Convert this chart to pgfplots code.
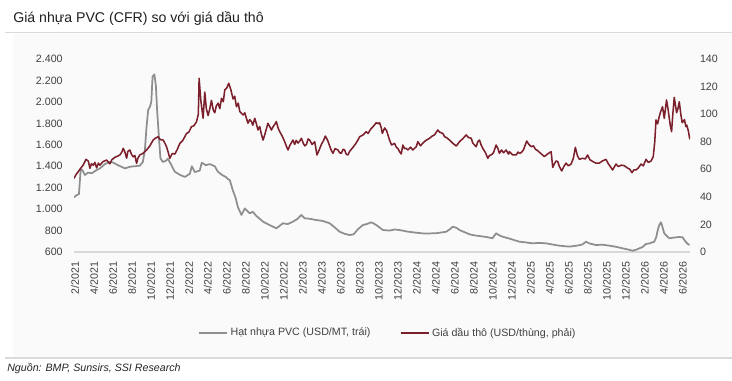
\documentclass[border=0pt]{standalone}
\usepackage{pgfplots}
\pgfplotsset{compat=1.18}
\usepackage{pgfplotstable}
\usepackage{fontspec}
\setmainfont{Liberation Sans}

\definecolor{pvcgray}{HTML}{8E8E8E}
\definecolor{oilred}{HTML}{7A1F2B}
\definecolor{ticktext}{HTML}{404040}
\definecolor{panel}{HTML}{FAFAFA}
\definecolor{rule}{HTML}{DADADA}

% x = months since February 2021
\pgfplotstableread{
m v
-0.1 1110
0.18 1130
0.42 1140
0.6 1365
0.74 1370
1.05 1318
1.37 1340
1.79 1335
2.2 1360
2.63 1380
3.15 1420
3.68 1440
4.0 1435
4.52 1410
5.26 1380
5.78 1395
6.3 1400
6.83 1405
7.15 1440
7.36 1550
7.54 1770
7.71 1924
7.89 1955
8.04 2000
8.17 2235
8.36 2257
8.52 2150
8.65 1924
8.86 1645
9.0 1474
9.25 1440
9.57 1450
9.78 1470
10.1 1420
10.5 1350
11.04 1320
11.57 1300
12.1 1330
12.3 1400
12.62 1345
13.14 1360
13.35 1433
13.77 1410
14.2 1420
14.72 1400
15.04 1350
15.46 1320
15.88 1300
16.1 1280
16.3 1271
16.61 1178
16.93 1100
17.14 1022
17.53 945
17.88 1007
18.4 961
18.72 975
19.1 936
19.45 910
19.8 883
20.29 860
20.85 836
21.2 821
21.56 845
21.9 868
22.4 860
22.95 883
23.45 910
23.84 945
24.19 914
24.71 910
25.42 898
26.08 890
26.81 868
27.34 830
27.86 789
28.39 770
28.92 758
29.34 765
29.79 812
30.32 852
30.7 860
31.2 877
31.72 852
32.42 805
33.12 800
33.65 810
34.17 805
35.02 790
35.93 780
36.8 772
38.03 775
39.09 789
39.43 810
39.78 836
40.17 825
40.48 805
41.01 785
41.54 765
42.06 755
42.59 749
43.32 740
43.95 728
44.34 774
44.69 755
45.01 743
45.74 725
46.79 696
47.42 690
48.16 681
48.9 685
49.6 681
50.26 670
51.0 659
52.05 650
52.89 660
53.42 670
53.8 696
54.15 680
54.86 665
55.52 668
56.26 659
56.99 648
57.66 634
58.15 625
58.71 612
59.1 622
59.41 634
59.73 645
60.12 675
60.46 680
60.99 696
61.2 740
61.34 800
61.51 850
61.69 877
61.83 840
62.04 774
62.3 750
62.57 728
63.1 735
63.62 740
63.97 737
64.25 700
64.52 675
64.7 665
}\pvcdata

\pgfplotstableread{
m v
-0.1 53.4
0.1 56
0.35 58.3
0.63 61
0.87 63.1
1.16 67.2
1.4 66
1.58 60.7
1.73 64
1.92 63
2.1 65
2.28 61
2.47 64.5
2.63 63
2.94 65.5
3.33 66.7
3.68 64
3.89 67
4.21 68.7
4.47 69.5
4.73 70.4
4.94 72.5
5.08 75.2
5.26 72.5
5.44 68
5.57 73
5.78 74
5.94 71
6.13 69
6.31 70
6.49 64.3
6.62 68
6.83 70.4
7.15 71.5
7.54 74
7.89 77
8.23 81.2
8.46 82.5
8.76 83.6
8.99 81.5
9.29 81.2
9.46 79
9.64 76.4
9.83 72
9.99 68
10.25 71.5
10.52 71
10.78 74.5
11.04 78.8
11.36 81
11.75 86
11.99 87
12.27 90.9
12.51 91.5
12.8 94.5
12.99 100
13.07 126
13.25 110
13.49 97
13.67 116
13.83 104
14.02 99
14.2 104
14.37 110
14.56 103
14.72 101
14.88 106
15.07 108
15.25 104
15.43 111.5
15.62 109
15.77 117.5
15.98 119
16.19 122.4
16.4 118
16.65 111
16.82 113
17.0 105.4
17.19 108
17.35 102
17.53 100.6
17.7 99.4
17.88 101
18.05 97
18.22 93.4
18.4 96
18.58 94.6
18.72 92
18.93 97
19.1 93
19.27 88.5
19.45 91
19.61 86
19.8 81.2
19.98 85
20.14 89
20.32 93.4
20.5 91
20.68 88.5
20.87 91
21.03 92.5
21.2 94.6
21.38 90
21.56 87.3
21.82 84
22.08 80
22.24 77
22.43 74
22.6 77
22.76 79
22.95 81.2
23.13 78
23.29 81
23.48 79
23.66 80.5
23.84 82.5
24.03 79
24.19 77
24.37 78
24.55 82
24.71 81.2
24.97 78
25.24 80
25.48 70.4
25.71 74
25.94 78
26.18 81
26.36 84.1
26.6 81
26.81 77
26.97 74
27.16 71.6
27.39 75
27.69 74
27.86 72
28.04 71.6
28.23 74.5
28.39 74
28.55 71
28.74 70.4
28.92 73
29.26 75.9
29.55 78.5
29.79 81.2
29.97 83.6
30.32 84.9
30.67 87.3
30.86 86
31.12 89
31.39 91
31.72 93.8
31.96 93
32.07 93.8
32.25 90
32.36 86
32.6 90
32.81 88
33.12 81.2
33.33 77.6
33.65 78.8
33.83 76
34.01 75
34.17 72.8
34.35 71.1
34.52 77.6
34.7 75
34.87 75.2
35.05 74
35.33 76
35.57 74
35.93 76.4
36.1 80
36.38 77
36.62 79
36.96 81
37.33 82.5
37.59 84
37.85 84.9
38.2 88.5
38.38 87
38.73 86
38.91 83.6
39.12 83
39.43 81.2
39.75 79
40.14 76.9
40.27 78
40.48 80
40.8 82
41.19 84.9
41.43 83
41.72 82.5
41.88 79
42.24 76.4
42.41 80
42.59 81.2
42.74 78
42.93 75.2
43.22 72
43.46 68
43.64 70
43.82 70.4
44.06 72
44.34 77.6
44.53 75
44.69 71.6
44.9 74
45.11 72
45.39 74
45.64 71
45.74 72.8
46.09 70.4
46.45 70.4
46.64 72.5
46.79 71.6
46.97 72
47.21 74
47.56 80.5
47.79 78
48.03 76.4
48.27 77
48.48 74.5
48.72 73.5
48.95 72
49.21 70.5
49.42 69.2
49.74 71
50.13 72.8
50.3 61.4
50.47 64
50.65 66
50.82 65.7
51.0 62
51.24 58.8
51.47 62
51.7 64.5
51.94 62.5
52.23 63.8
52.47 68
52.68 75.9
52.89 70
53.1 67.2
53.42 68
53.73 67.5
53.97 70.4
54.2 67
54.5 65.7
54.84 64.5
55.21 64.5
55.52 66
55.91 67.2
56.15 64
56.36 62
56.6 59.5
56.96 63.8
57.2 62
57.52 63
57.83 62.6
58.15 61
58.41 60
58.64 57.5
58.83 59.5
59.06 59.5
59.31 61
59.59 63.8
59.83 62.5
60.12 67.2
60.36 65
60.65 66
60.88 69.2
61.04 80
61.17 95.8
61.34 93
61.51 98.2
61.67 102
61.86 105.4
62.04 97
62.28 110.3
62.43 104
62.57 97
62.67 92
62.81 87.3
62.94 100
63.09 112.2
63.34 101
63.48 104
63.62 109
63.78 100
63.93 93.8
64.17 96
64.31 91
64.41 92
64.57 88
64.73 81.7
}\oildata

\pgfplotsset{
  common/.style={
    scale only axis,
    width=462pt, height=144.75pt,
    at={(55.5pt,-189pt)}, anchor=south west,
    xmin=-0.1, xmax=64.75,
    tick style={draw=none},
    major tick length=0pt,
    ticklabel style={font=\fontsize{8}{9}\selectfont, text=ticktext},
    /pgf/number format/assume math mode=true,
  },
}

\begin{document}
\begin{tikzpicture}
\begin{scope}[x=0.75pt,y=-0.75pt]
  \path[use as bounding box] (0,0) rectangle (732,381);
  \fill[white] (0,0) rectangle (732,381);
  \fill[panel] (13,34) rectangle (732,357);
  \draw[rule, line width=1.2pt] (5,32.5) -- (732,32.5);
  \draw[rule, line width=0.8pt] (5,358) -- (732,358);
  \node[anchor=west, inner sep=0pt, text=black!88, font=\fontsize{10.6}{12}\selectfont] at (13,19) {Giá nhựa PVC (CFR) so với giá dầu thô};
  \node[anchor=west, inner sep=0pt, text=black!85, font=\fontsize{8}{9}\selectfont\itshape] at (7,369) {Nguồn: BMP, Sunsirs, SSI Research};
\end{scope}

% Left axis: PVC resin price
\begin{axis}[common,
  ymin=600, ymax=2400,
  ytick={600,800,...,2400},
  yticklabel style={/pgf/number format/1000 sep={.}, xshift=-5pt},
  axis x line*=bottom,
  axis y line*=left,
  x axis line style={draw=black!15, line width=0.8pt, -},
  y axis line style={draw=none},
  xtick={0,2,...,64},
  xticklabels={2/2021,4/2021,6/2021,8/2021,10/2021,12/2021,
    2/2022,4/2022,6/2022,8/2022,10/2022,12/2022,
    2/2023,4/2023,6/2023,8/2023,10/2023,12/2023,
    2/2024,4/2024,6/2024,8/2024,10/2024,12/2024,
    2/2025,4/2025,6/2025,8/2025,10/2025,12/2025,
    2/2026,4/2026,6/2026},
  xticklabel style={rotate=90, anchor=east, yshift=0pt, xshift=-4pt},
]
\addplot[pvcgray, line width=1.3pt, line join=round] table[x=m, y=v] {\pvcdata};
\end{axis}

% Right axis: crude oil price
\begin{axis}[common,
  ymin=0, ymax=140,
  ytick={0,20,...,140},
  yticklabel style={xshift=4pt},
  axis x line=none,
  axis y line*=right,
  y axis line style={draw=none},
  legend style={at={(0.51,-0.42)}, anchor=center, draw=none, fill=none,
    font=\fontsize{8}{9}\selectfont, text=ticktext,
    legend columns=2,
    /tikz/every even column/.append style={column sep=20pt}},
  legend cell align=left,
  legend image code/.code={\draw[#1] (0pt,0pt) -- (21pt,0pt);},
]
\addlegendimage{pvcgray, line width=1.3pt}
\addlegendentry{Hạt nhựa PVC (USD/MT, trái)}
\addplot[oilred, line width=1.15pt, line join=round] table[x=m, y=v] {\oildata};
\addlegendentry{Giá dầu thô (USD/thùng, phải)}
\end{axis}
\end{tikzpicture}
\end{document}
